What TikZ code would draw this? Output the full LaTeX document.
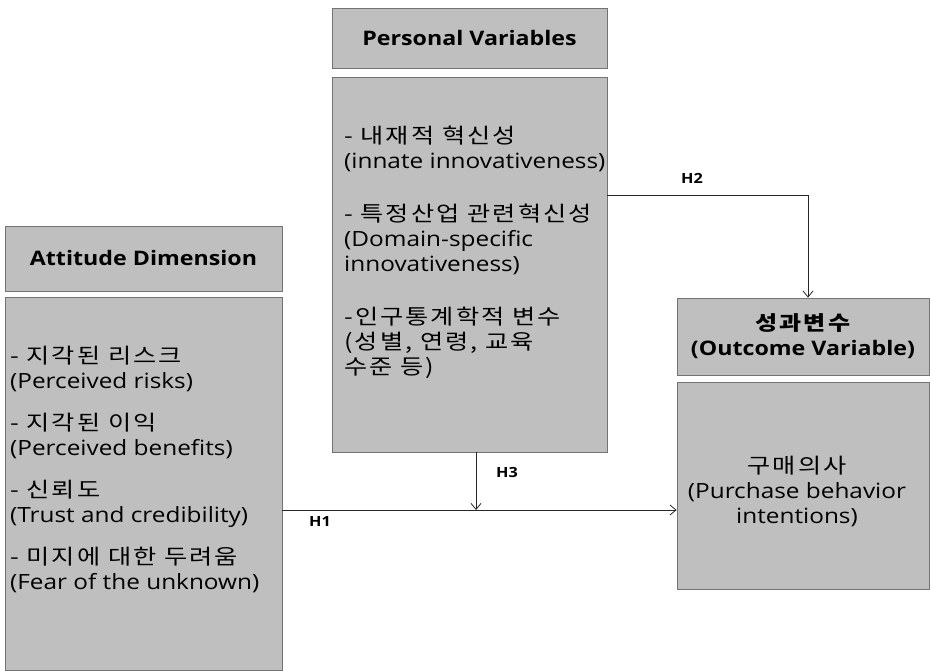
\documentclass[tikz,border=0pt]{standalone}
\usepackage{fontspec}
\setmainfont{Open Sans}[FakeStretch=1.16]
\newfontfamily\kr{Noto Sans CJK KR}[FakeStretch=1.2,LetterSpace=10]
\usetikzlibrary{positioning,arrows.meta}

\tikzset{
  box/.style={draw=black!55, fill=black!25, line width=0.8pt, inner sep=0pt},
  headtext/.style={font=\fontsize{20}{25}\selectfont\bfseries, align=center},
  bodytext/.style={font=\fontsize{21}{25}\selectfont, align=left, inner sep=0pt, anchor=north west},
  link/.style={draw=black!85, line width=0.8pt, -{Straight Barb[length=6pt,width=10pt]}},
  hyp/.style={font=\fontsize{14}{16}\selectfont\bfseries}
}

\begin{document}
\begin{tikzpicture}[x=1pt,y=-1pt]
    \useasboundingbox (0,0) rectangle (930,671);
    % Attitude dimension
    \node[box, headtext, minimum width=277pt, minimum height=65pt] (atthead) at (143.5,258.5) {Attitude Dimension};
    \node[box, minimum width=277pt, minimum height=373pt] (attbody) at (143.5,483.5) {};
    \node[bodytext] (atttext) at (10,346) {{\kr - 지각된 리스크}\\(Perceived risks)\\[17pt]
        {\kr - 지각된 이익}\\(Perceived benefits)\\[17pt]
        {\kr - 신뢰도}\\(Trust and credibility)\\[17pt]
        {\kr - 미지에 대한 두려움}\\(Fear of the unknown)};
    % Personal variables
    \node[box, headtext, minimum width=275pt, minimum height=60pt] (perhead) at (469.5,38) {Personal Variables};
    \node[box, minimum width=275pt, minimum height=375pt] (perbody) at (469.5,264.5) {};
    \node[bodytext] (pertext) at (344,126) {{\kr - 내재적 혁신성}\\(innate innovativeness)\\[28pt]
        {\kr - 특정산업 관련혁신성}\\(Domain-specific\\innovativeness)\\[28pt]
        {\kr -인구통계학적 변수}\\{\kr (성별, 연령, 교육}\\{\kr 수준 등)}};
    % Outcome variable
    \node[box, headtext, minimum width=252pt, minimum height=77pt] (outhead) at (803,336.5) {{\kr 성과변수}\\(Outcome Variable)};
    \node[box, minimum width=252pt, minimum height=207pt] (outbody) at (803,485.5) {};
    \node[bodytext, align=center, anchor=center] (outtext) at (797,491) {{\kr 구매의사}\\(Purchase behavior\\intentions)};
    % Hypotheses
    \coordinate (h2turn) at (808,195);
    \coordinate (h3meet) at (476,510);
    \draw[link] (perbody.east |- h2turn) -- (h2turn) -- (outhead.north -| h2turn);
    \draw[link] (attbody.east |- h3meet) -- (outbody.west |- h3meet);
    \draw[link] (perbody.south -| h3meet) -- (h3meet);
    \node[hyp] (h1) at (320,522) {H1};
    \node[hyp] (h2) at (692,178) {H2};
    \node[hyp] (h3) at (507,472) {H3};
\end{tikzpicture}
\end{document}
